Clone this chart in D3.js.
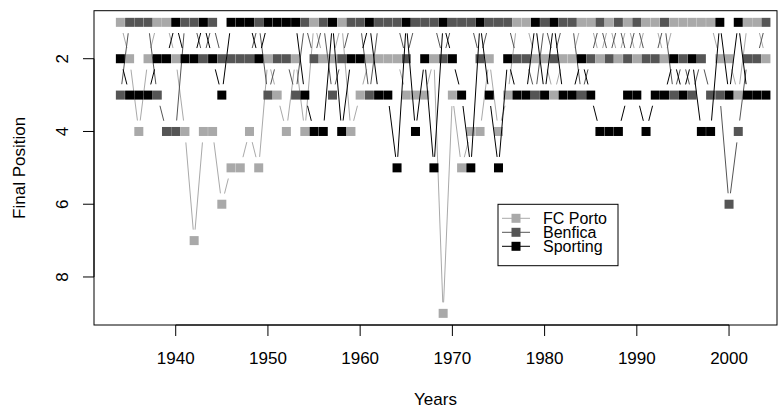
<!DOCTYPE html>
<html>
<head>
<meta charset="utf-8">
<script src="https://cdn.jsdelivr.net/npm/d3@7"></script>
<style>
  html, body { margin: 0; padding: 0; background: #fff; }
  svg { display: block; }
  text { font-family: "Liberation Sans", Arial, Helvetica, sans-serif; fill: #000; }
</style>
</head>
<body>
<svg id="chart" width="782" height="409"></svg>
<script>
// Seasons, labelled by the year in which each season starts
const years = d3.range(1934, 2005);

// Final league position of each club, one entry per season
const porto = [
  1, 2, 4, 2, 1, 1, 2, 4, 7, 4, 4, 6, 5, 5, 4, 5,
  2, 3, 4, 2, 4, 1, 2, 2, 1, 4,
  3, 2, 2, 2, 2, 3, 3, 3, 2, 9,
  3, 5, 4, 4, 2, 4, 3, 1, 1, 2,
  2, 3, 2, 2, 1, 1, 2, 1, 2, 1,
  2, 1, 1, 2, 1, 1, 1, 1, 1, 2,
  2, 3, 1, 1, 2
];
const benfica = [
  3, 1, 1, 1, 3, 4, 4, 1, 1, 2, 1, 2, 2, 2, 2, 1,
  3, 2, 2, 3, 1, 2, 1, 3, 2, 1,
  1, 3, 1, 1, 1, 2, 1, 1, 1, 2,
  1, 1, 1, 2, 1, 1, 1, 2, 2, 3,
  1, 2, 1, 1, 3, 2, 1, 2, 1, 2,
  1, 2, 2, 1, 3, 2, 3, 2, 3, 3,
  6, 4, 2, 2, 1
];
const sporting = [
  2, 3, 3, 3, 2, 2, 1, 2, 2, 1, 2, 3, 1, 1, 1, 2,
  1, 1, 1, 1, 3, 4, 4, 1, 4, 2,
  2, 1, 3, 3, 5, 1, 4, 2, 5, 1,
  2, 3, 5, 1, 3, 5, 2, 3, 3, 1,
  3, 1, 3, 3, 2, 3, 4, 4, 4, 3,
  3, 4, 3, 3, 2, 3, 2, 4, 4, 1,
  3, 1, 3, 3, 3
];

const teamNames = ["FC Porto", "Benfica", "Sporting"];
const teamColors = ["#a9a9a9", "#555555", "#000000"];
const xTicks = [1940, 1950, 1960, 1970, 1980, 1990, 2000];
const yTicks = [2, 4, 6, 8];

const series = [porto, benfica, sporting].map((vals, i) => ({
  name: teamNames[i],
  color: teamColors[i],
  points: vals.map((v, j) => ({ year: years[j], pos: v }))
}));

// Plot region
const box = { left: 94, right: 777, top: 10.7, bottom: 325 };
const x = d3.scaleLinear().domain([1931.14, 2005.2]).range([box.left, box.right]);
const y = d3.scaleLinear().domain([0.68, 9.32]).range([box.top, box.bottom]);

const svg = d3.select("#chart");
const fontSize = 17;
const sq = 9;     // size of the square markers
const gap = 11;   // empty space left around each marker by the joining lines

// Series: broken lines between points, then filled squares
series.forEach(s => {
  const g = svg.append("g");
  const segs = [];
  for (let k = 1; k < s.points.length; k++) {
    const a = s.points[k - 1], b = s.points[k];
    const x1 = x(a.year), y1 = y(a.pos), x2 = x(b.year), y2 = y(b.pos);
    const len = Math.hypot(x2 - x1, y2 - y1);
    if (len <= 2 * gap) continue;
    const ux = (x2 - x1) / len, uy = (y2 - y1) / len;
    segs.push({ x1: x1 + ux * gap, y1: y1 + uy * gap, x2: x2 - ux * gap, y2: y2 - uy * gap });
  }
  g.selectAll("line").data(segs).join("line")
    .attr("x1", d => d.x1).attr("y1", d => d.y1)
    .attr("x2", d => d.x2).attr("y2", d => d.y2)
    .attr("stroke", s.color).attr("stroke-width", 1);
  g.selectAll("rect").data(s.points).join("rect")
    .attr("x", d => x(d.year) - sq / 2)
    .attr("y", d => y(d.pos) - sq / 2)
    .attr("width", sq).attr("height", sq)
    .attr("fill", s.color);
});

// Frame around the plot
svg.append("rect")
  .attr("x", box.left).attr("y", box.top)
  .attr("width", box.right - box.left).attr("height", box.bottom - box.top)
  .attr("fill", "none").attr("stroke", "#000").attr("stroke-width", 1);

// Bottom axis
const xAxis = svg.append("g").attr("transform", `translate(0,${box.bottom})`);
xAxis.append("line")
  .attr("x1", x(xTicks[0])).attr("x2", x(xTicks[xTicks.length - 1]))
  .attr("stroke", "#000");
xAxis.selectAll("line.tick").data(xTicks).join("line").attr("class", "tick")
  .attr("x1", d => x(d)).attr("x2", d => x(d))
  .attr("y1", 0).attr("y2", 11).attr("stroke", "#000");
xAxis.selectAll("text").data(xTicks).join("text")
  .attr("x", d => x(d)).attr("y", 39)
  .attr("text-anchor", "middle").attr("font-size", fontSize)
  .text(d => d);

// Left axis, labels turned parallel to the axis
const yAxis = svg.append("g").attr("transform", `translate(${box.left},0)`);
yAxis.append("line")
  .attr("y1", y(yTicks[0])).attr("y2", y(yTicks[yTicks.length - 1]))
  .attr("stroke", "#000");
yAxis.selectAll("line.tick").data(yTicks).join("line").attr("class", "tick")
  .attr("y1", d => y(d)).attr("y2", d => y(d))
  .attr("x1", 0).attr("x2", -11).attr("stroke", "#000");
yAxis.selectAll("text").data(yTicks).join("text")
  .attr("transform", d => `translate(-26,${y(d)}) rotate(-90)`)
  .attr("text-anchor", "middle").attr("font-size", fontSize)
  .text(d => d);

// Axis titles
svg.append("text")
  .attr("x", (box.left + box.right) / 2).attr("y", 405)
  .attr("text-anchor", "middle").attr("font-size", fontSize)
  .text("Years");
svg.append("text")
  .attr("transform", `translate(25,${(box.top + box.bottom) / 2}) rotate(-90)`)
  .attr("text-anchor", "middle").attr("font-size", fontSize)
  .text("Final Position");

// Legend
const legendFont = 16;
const lg = svg.append("g");
lg.append("rect")
  .attr("x", 498).attr("y", 204.3).attr("width", 120).attr("height", 61.4)
  .attr("fill", "#fff").attr("stroke", "#000");
const items = lg.selectAll("g.item").data(series).join("g").attr("class", "item")
  .attr("transform", (d, i) => `translate(0,${218.3 + i * 14})`);
items.append("line")
  .attr("x1", 502).attr("x2", 530).attr("y1", 0).attr("y2", 0)
  .attr("stroke", d => d.color);
items.append("rect")
  .attr("x", 516 - sq / 2).attr("y", -sq / 2).attr("width", sq).attr("height", sq)
  .attr("fill", d => d.color);
items.append("text")
  .attr("x", 543).attr("y", 0).attr("dy", "0.36em")
  .attr("font-size", legendFont)
  .text(d => d.name);
</script>
</body>
</html>
